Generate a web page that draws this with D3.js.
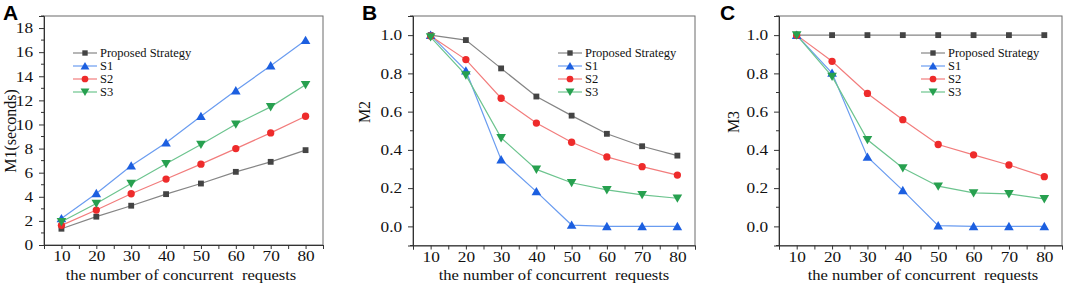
<!DOCTYPE html>
<html><head><meta charset="utf-8">
<script src="https://cdn.jsdelivr.net/npm/d3@7"></script>
<style>body{margin:0;background:#fff}svg{display:block}</style>
</head><body>
<script>
const xValues = [10, 20, 30, 40, 50, 60, 70, 80];
const seriesNames = ["Proposed Strategy", "S1", "S2", "S3"];
const xTickLabels = [10, 20, 30, 40, 50, 60, 70, 80];
const m1Ticks = [0, 2, 4, 6, 8, 10, 12, 14, 16, 18];
const mTicks = [0.0, 0.2, 0.4, 0.6, 0.8, 1.0];

const m1Proposed = [1.35, 2.35, 3.26, 4.22, 5.10, 6.07, 6.90, 7.87];
const m1S1 = [2.20, 4.28, 6.57, 8.48, 10.68, 12.81, 14.88, 16.98];
const m1S2 = [1.63, 2.90, 4.25, 5.47, 6.71, 8.00, 9.30, 10.68];
const m1S3 = [1.93, 3.45, 5.10, 6.74, 8.34, 10.02, 11.46, 13.30];

const m2Proposed = [1.0, 0.974, 0.826, 0.679, 0.579, 0.484, 0.419, 0.370];
const m2S1 = [1.0, 0.814, 0.349, 0.182, 0.007, 0.0, 0.0, 0.0];
const m2S2 = [0.995, 0.872, 0.670, 0.540, 0.440, 0.363, 0.312, 0.268];
const m2S3 = [0.99, 0.791, 0.463, 0.298, 0.228, 0.191, 0.165, 0.147];

const m3Proposed = [1.0, 1.0, 1.0, 1.0, 1.0, 1.0, 1.0, 1.0];
const m3S1 = [1.0, 0.802, 0.363, 0.188, 0.004, 0.0, 0.0, 0.0];
const m3S2 = [1.0, 0.863, 0.695, 0.558, 0.428, 0.374, 0.321, 0.260];
const m3S3 = [1.0, 0.784, 0.453, 0.305, 0.210, 0.175, 0.170, 0.144];

const styles = [
  {line: "#858585", mark: "#444444", sym: d3.symbolSquare, size: 34, rot: 0},
  {line: "#6a9cf0", mark: "#1c5fe0", sym: d3.symbolTriangle, size: 40, rot: 0},
  {line: "#f27c7c", mark: "#ee2b2b", sym: d3.symbolCircle, size: 42, rot: 0},
  {line: "#6cc48e", mark: "#27a04f", sym: d3.symbolTriangle, size: 40, rot: 180}
];

const panels = [
  {letter: "A", ytitle: "M1(seconds)", series: [m1Proposed, m1S1, m1S2, m1S3], ydom: [0, 19], yticks: m1Ticks, fmt: d3.format("d"),
   frame: {l: 44, r: 323, t: 16, b: 245}, ytx: 10, yty: 131, xtx: 181, legend: {x: 73, y: 53}, lx: 3},
  {letter: "B", ytitle: "M2", series: [m2Proposed, m2S1, m2S2, m2S3], ydom: [-0.1, 1.1], yticks: mTicks, fmt: d3.format(".1f"),
   frame: {l: 413, r: 695, t: 16, b: 245.5}, ytx: 364, yty: 112, xtx: 554, legend: {x: 558, y: 53}, lx: 362},
  {letter: "C", ytitle: "M3", series: [m3Proposed, m3S1, m3S2, m3S3], ydom: [-0.1, 1.1], yticks: mTicks, fmt: d3.format(".1f"),
   frame: {l: 779, r: 1062, t: 16, b: 245.5}, ytx: 733, yty: 122, xtx: 923, legend: {x: 921, y: 53}, lx: 720}
];

const svg = d3.select("body").append("svg").attr("width", 1065).attr("height", 285);
const serif = "'Liberation Serif','Times New Roman',serif";

panels.forEach(p => {
  const f = p.frame;
  const x = d3.scaleLinear().domain([5, 85]).range([f.l, f.r]);
  const y = d3.scaleLinear().domain(p.ydom).range([f.b, f.t]);
  const g = svg.append("g");

  // frame
  g.append("rect").attr("x", f.l).attr("y", f.t).attr("width", f.r - f.l).attr("height", f.b - f.t)
    .attr("fill", "none").attr("stroke", "#6b6b6b").attr("stroke-width", 1);

  // x axis
  const xMinor = d3.range(5, 86, 5);
  const xa = g.append("g").attr("transform", `translate(0,${f.b})`)
    .call(d3.axisBottom(x).tickValues(xMinor).tickSize(4).tickFormat(d => xTickLabels.includes(d) ? d : ""));
  xa.select(".domain").attr("stroke", "#333");
  xa.selectAll(".tick line").attr("stroke", "#333");
  xa.selectAll("text").attr("font-family", serif).attr("font-size", 15).attr("fill", "#111")
    .attr("y", 16.5).attr("dy", null).attr("transform", "scale(1.15,1)");

  // y axis major
  const ya = g.append("g").attr("transform", `translate(${f.l},0)`)
    .call(d3.axisLeft(y).tickValues(p.yticks).tickSize(5).tickFormat(p.fmt));
  ya.select(".domain").attr("stroke", "#333");
  ya.selectAll(".tick line").attr("stroke", "#333");
  ya.selectAll("text").attr("font-family", serif).attr("font-size", 15).attr("fill", "#111")
    .attr("x", -9.5).attr("transform", "scale(1.15,1)");
  // y minor ticks
  const step = p.yticks[1] - p.yticks[0];
  const minor = [];
  for (let v = p.ydom[0]; v <= p.ydom[1] + 1e-9; v += step / 2) {
    const r = Math.round(v / (step / 2));
    if (r % 2 !== 0) minor.push(v);
  }
  g.append("g").selectAll("line").data(minor).join("line")
    .attr("x1", f.l - 3).attr("x2", f.l).attr("y1", d => y(d)).attr("y2", d => y(d))
    .attr("stroke", "#333");

  // series
  p.series.forEach((vals, i) => {
    const st = styles[i];
    const pts = xValues.map((xv, j) => [xv, vals[j]]);
    g.append("path").datum(pts)
      .attr("fill", "none").attr("stroke", st.line).attr("stroke-width", 1.2)
      .attr("d", d3.line().x(d => x(d[0])).y(d => y(d[1])));
  });
  p.series.forEach((vals, i) => {
    const st = styles[i];
    const pts = xValues.map((xv, j) => [xv, vals[j]]);
    g.append("g").selectAll("path").data(pts).join("path")
      .attr("d", d3.symbol().type(st.sym).size(st.size))
      .attr("transform", d => `translate(${x(d[0])},${y(d[1]) + (st.sym === d3.symbolTriangle ? (st.rot ? -1 : 1) : 0)}) rotate(${st.rot})`)
      .attr("fill", st.mark);
  });

  // legend
  const lg = g.append("g").attr("transform", `translate(${p.legend.x},${p.legend.y})`);
  seriesNames.forEach((name, i) => {
    const st = styles[i];
    const row = lg.append("g").attr("transform", `translate(0,${i * 13})`);
    row.append("line").attr("x1", 0).attr("x2", 24).attr("y1", 0).attr("y2", 0)
      .attr("stroke", st.line).attr("stroke-width", 1.2);
    row.append("path").attr("d", d3.symbol().type(st.sym).size(st.size * 0.85))
      .attr("transform", `translate(12,${st.sym === d3.symbolTriangle ? (st.rot ? -1 : 1) : 0}) rotate(${st.rot})`)
      .attr("fill", st.mark);
    row.append("text").attr("x", 27).attr("y", 0).attr("dy", "0.35em")
      .attr("font-family", serif).attr("font-size", 12.5).attr("fill", "#111").text(name);
  });

  // titles
  g.append("text").attr("transform", `translate(${p.xtx},279.5) scale(1.07,1)`).attr("text-anchor", "middle")
    .attr("font-family", serif).attr("font-size", 15.5).attr("fill", "#111")
    .attr("xml:space", "preserve").style("white-space", "pre")
    .text("the number of concurrent  requests");
  g.append("text").attr("transform", `translate(${p.ytx},${p.yty}) rotate(-90)`)
    .attr("text-anchor", "middle").attr("dy", "0.35em")
    .attr("font-family", serif).attr("font-size", 16).attr("fill", "#111").text(p.ytitle);

  // panel letter
  g.append("text").attr("x", p.lx).attr("y", 20)
    .attr("font-family", "'Liberation Sans',Arial,sans-serif").attr("font-weight", "bold")
    .attr("font-size", 21).attr("fill", "#000").text(p.letter);
});
</script>
</body></html>
